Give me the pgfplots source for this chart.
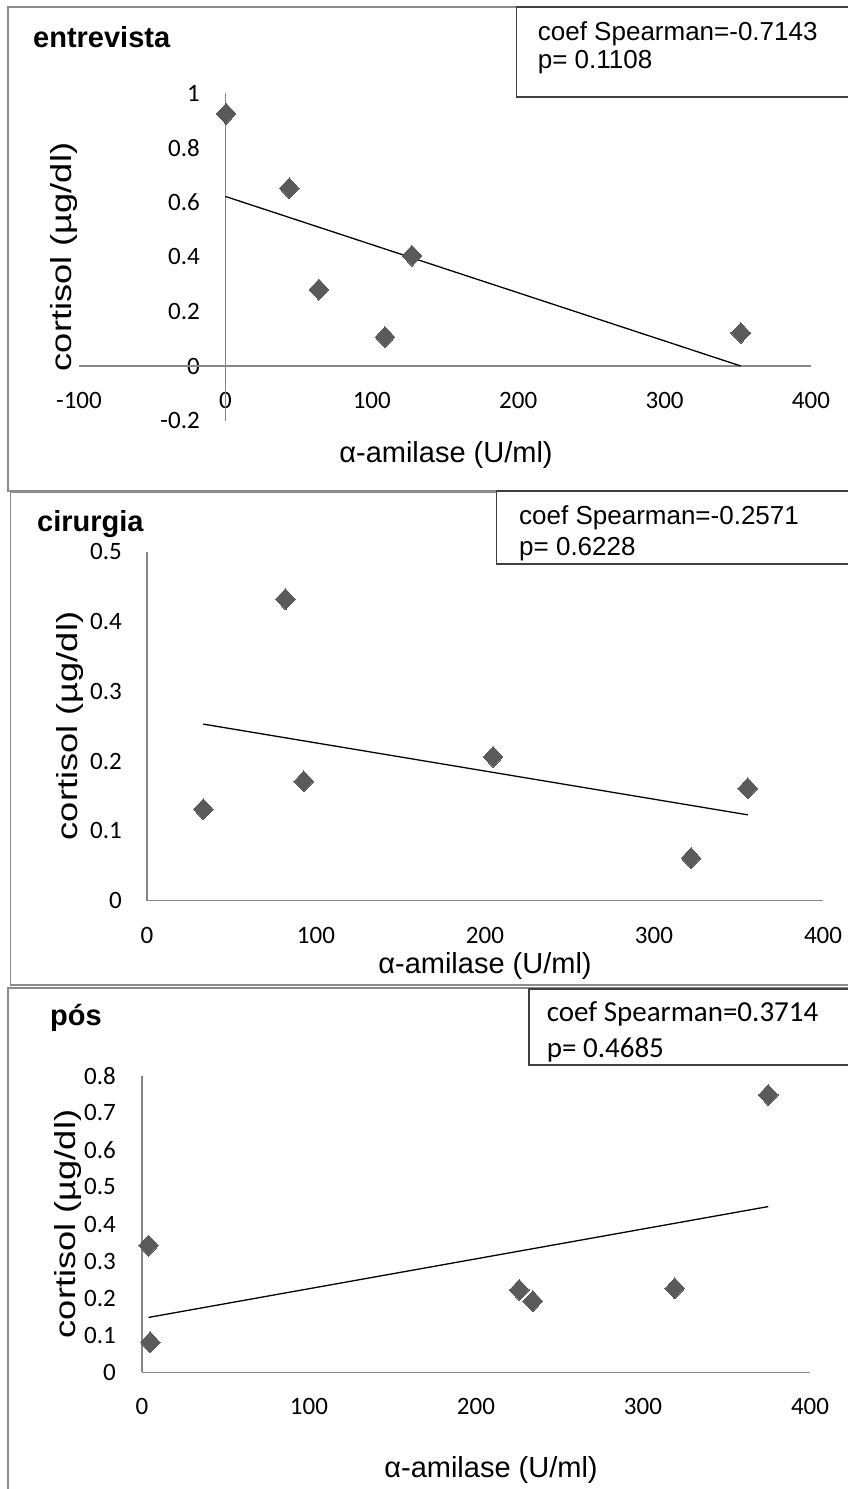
\documentclass[border=0pt]{standalone}
\usepackage{pgfplots}
\pgfplotsset{compat=1.18}
\usepackage{fontspec}
\setmainfont{Liberation Sans}
\newfontfamily\carlito{Carlito}
\definecolor{framegray}{HTML}{8C8C8C}
\definecolor{axisgray}{HTML}{868686}
\definecolor{markgray}{HTML}{5A5A5A}
\definecolor{boxgray}{HTML}{404040}
\pgfplotsset{
  excel/.style={
    scale only axis, clip=false,
    axis line style={draw=none},
    major tick length=0pt, minor tick length=0pt,
    tick style={draw=none},
    ticklabel style={font=\carlito\fontsize{25bp}{30bp}\selectfont, inner sep=0pt},
    xticklabel style={anchor=center},
    yticklabel style={anchor=east},
    scaled ticks=false,
  },
  pts/.style={only marks, mark=diamond*, mark size=10.5bp,
    mark options={xscale=1.25, fill=markgray, draw=markgray, line width=0pt}},
  trend/.style={black, line width=1.3bp, no marks},
}
\begin{document}
\begin{tikzpicture}
\useasboundingbox (0,0) rectangle (848bp,1489bp);
% frames
\draw[framegray, line width=1.5bp] (8bp,1482bp) rectangle (870bp,998bp);
\draw[framegray, line width=1.5bp] (10.5bp,997bp) rectangle (870bp,504bp);
\draw[framegray, line width=1.5bp] (8bp,501bp) rectangle (870bp,-20bp);

% ---------- panel 1: entrevista ----------
\begin{axis}[excel, at={(79bp,1068.4bp)}, anchor=south west,
  width=732bp, height=327.6bp,
  xmin=-100, xmax=400, ymin=-0.2, ymax=1,
  xtick={-100,0,100,200,300,400}, xticklabels={-100,0,100,200,300,400},
  ytick={-0.2,0,0.2,0.4,0.6,0.8,1}, yticklabels={-0.2,0,0.2,0.4,0.6,0.8,1},
  xticklabel style={yshift=20.6bp},
  yticklabel style={xshift=121bp},
]
\draw[axisgray, line width=1.3bp] (axis cs:-100,0) -- (axis cs:400,0);
\draw[axisgray, line width=1.3bp] (axis cs:0,-0.2) -- (axis cs:0,1);
\addplot[trend] coordinates {(0,0.621) (352,0.0)};
\addplot[pts] coordinates {
  (0.5,0.924) (43.6,0.651) (63.9,0.280) (109,0.106) (127.4,0.404) (352,0.121)
};
\end{axis}

% ---------- panel 2: cirurgia ----------
\begin{axis}[excel, at={(147bp,588.3bp)}, anchor=south west,
  width=676bp, height=349bp,
  xmin=0, xmax=400, ymin=0, ymax=0.5,
  xtick={0,100,200,300,400}, xticklabels={0,100,200,300,400},
  ytick={0,0.1,0.2,0.3,0.4,0.5}, yticklabels={0,0.1,0.2,0.3,0.4,0.5},
  xticklabel style={yshift=-34.3bp},
  yticklabel style={xshift=-25bp},
]
\draw[axisgray, line width=1.3bp] (axis cs:0,0) -- (axis cs:400,0);
\draw[axisgray, line width=1.3bp] (axis cs:0,0) -- (axis cs:0,0.5);
\addplot[trend] coordinates {(33.3,0.253) (355.5,0.123)};
\addplot[pts] coordinates {
  (33.3,0.131) (81.9,0.432) (92.8,0.171) (204.8,0.206) (321.9,0.061) (355.5,0.161)
};
\end{axis}

% ---------- panel 3: pos ----------
\begin{axis}[excel, at={(142bp,116.7bp)}, anchor=south west,
  width=668bp, height=296.6bp,
  xmin=0, xmax=400, ymin=0, ymax=0.8,
  xtick={0,100,200,300,400}, xticklabels={0,100,200,300,400},
  ytick={0,0.1,0.2,0.3,0.4,0.5,0.6,0.7,0.8}, yticklabels={0,0.1,0.2,0.3,0.4,0.5,0.6,0.7,0.8},
  xticklabel style={yshift=-34.4bp},
  yticklabel style={xshift=-26bp},
]
\draw[axisgray, line width=1.3bp] (axis cs:0,0) -- (axis cs:400,0);
\draw[axisgray, line width=1.3bp] (axis cs:0,0) -- (axis cs:0,0.8);
\addplot[trend] coordinates {(3.9,0.148) (375,0.447)};
\addplot[pts] coordinates {
  (3.9,0.342) (4.9,0.081) (225.9,0.222) (234,0.192) (319,0.2265) (375,0.748)
};
\end{axis}

% titles
\node[anchor=base west, inner sep=0, font=\bfseries\fontsize{29bp}{34bp}\selectfont] at (33bp,1441bp) {entrevista};
\node[anchor=base west, inner sep=0, font=\bfseries\fontsize{29bp}{34bp}\selectfont] at (37bp,957bp) {cirurgia};
\node[anchor=base west, inner sep=0, font=\bfseries\fontsize{29bp}{34bp}\selectfont] at (50bp,463bp) {pós};

% axis labels
\begin{scope}[every node/.style={inner sep=0, font=\fontsize{29bp}{34bp}\selectfont}]
\node[anchor=base] at (446bp,1026bp) {α-amilase (U/ml)};
\node[anchor=base] at (485bp,515bp) {α-amilase (U/ml)};
\node[anchor=base] at (491bp,12bp) {α-amilase (U/ml)};
\node[rotate=90, xscale=1.25, anchor=base] at (71bp,1232bp) {cortisol (µg/dl)};
\node[rotate=90, xscale=1.25, anchor=base] at (77bp,763bp) {cortisol (µg/dl)};
\node[rotate=90, xscale=1.25, anchor=base] at (75bp,265bp) {cortisol (µg/dl)};
\end{scope}

% text boxes
\draw[boxgray, line width=1.3bp, fill=white] (516.7bp,1482bp) rectangle (870bp,1392bp);
\node[anchor=base west, inner sep=0, font=\fontsize{26bp}{30bp}\selectfont] at (537.7bp,1448bp) {coef Spearman=-0.7143};
\node[anchor=base west, inner sep=0, font=\fontsize{26bp}{30bp}\selectfont] at (537.7bp,1420bp) {p= 0.1108};

\draw[boxgray, line width=1.3bp, fill=white] (496.6bp,998bp) rectangle (870bp,925bp);
\node[anchor=base west, inner sep=0, font=\fontsize{26bp}{30bp}\selectfont] at (519bp,964bp) {coef Spearman=-0.2571};
\node[anchor=base west, inner sep=0, font=\fontsize{26bp}{30bp}\selectfont] at (519bp,933bp) {p= 0.6228};

\draw[boxgray, line width=1.3bp, fill=white] (529bp,500bp) rectangle (870bp,424bp);
\node[anchor=base west, inner sep=0, font=\carlito\fontsize{29bp}{34bp}\selectfont] at (546.7bp,467.3bp) {coef Spearman=0.3714};
\node[anchor=base west, inner sep=0, font=\carlito\fontsize{29bp}{34bp}\selectfont] at (546.7bp,431bp) {p= 0.4685};
\end{tikzpicture}
\end{document}
